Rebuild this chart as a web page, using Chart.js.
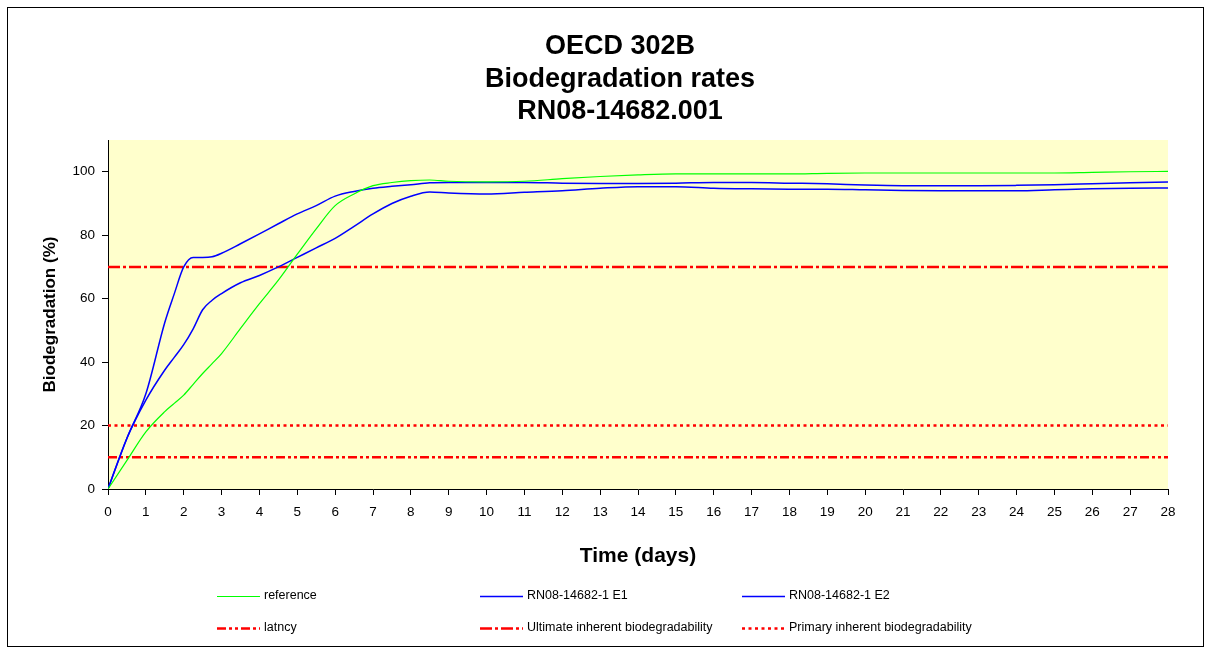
<!DOCTYPE html>
<html><head><meta charset="utf-8">
<script src="https://cdn.jsdelivr.net/npm/chart.js@4.4.1/dist/chart.umd.min.js"></script>
<style>html,body{margin:0;padding:0;background:#fff;}#wrap{width:1208px;height:652px;}</style>
</head><body><div id="wrap"><canvas id="c" width="1208" height="652"></canvas></div>
<script>
const days      = [0, 0.5, 1, 1.5, 1.75, 2, 2.25, 2.5, 2.75, 3, 3.5, 4, 4.5, 5, 5.5, 6, 6.5, 7, 7.5, 8, 8.5, 9, 10, 11, 12, 13, 14, 15, 16, 17, 18, 19, 20, 21, 22, 23, 24, 25, 26, 27, 28];
const reference = [0, 9, 18, 24.4, 27, 29.6, 33, 36.4, 39.5, 42.7, 50.6, 58.4, 65.8, 74, 82, 89.3, 93, 95.6, 96.6, 97.2, 97.4, 97, 96.8, 97, 97.8, 98.5, 99, 99.3, 99.3, 99.3, 99.3, 99.5, 99.6, 99.6, 99.6, 99.6, 99.6, 99.6, 99.8, 100, 100.1];
const e1        = [0, 16, 30, 52.5, 61.5, 70, 73, 73, 73.2, 74.3, 77.3, 80.4, 83.6, 86.7, 89.3, 92.3, 93.8, 94.8, 95.4, 95.9, 96.5, 96.6, 96.6, 96.6, 96.4, 96.3, 96.3, 96.4, 96.6, 96.6, 96.4, 96.2, 95.8, 95.6, 95.6, 95.6, 95.7, 95.9, 96.2, 96.5, 96.8];
const e2        = [0, 16, 28, 37.5, 41.5, 45.5, 50.5, 56.5, 59.5, 61.6, 65, 67.3, 70, 73, 76, 79, 82.8, 86.7, 90, 92.3, 93.6, 93.3, 93, 93.5, 94, 94.8, 95.3, 95.3, 94.8, 94.6, 94.5, 94.5, 94.3, 94.1, 94, 94, 94, 94.3, 94.6, 94.8, 94.9];
const latencyLevel  = 10;
const ultimateLevel = 70;
const primaryLevel  = 20;
const xRange = [0, 28];
const yRange = [0, 110];
const yStep = 20;
const titleLines = ['OECD 302B', 'Biodegradation rates', 'RN08-14682.001'];
const seriesNames = ['reference', 'RN08-14682-1 E1', 'RN08-14682-1 E2', 'latncy', 'Ultimate inherent biodegradability', 'Primary inherent biodegradability'];

const FONT = 'Liberation Sans, Arial, sans-serif';
const pts = arr => days.map((d, i) => ({x: d, y: arr[i]}));
const flat = v => [{x: xRange[0], y: v}, {x: xRange[1], y: v}];

const curve = {pointRadius: 0, fill: false, cubicInterpolationMode: 'monotone'};
const datasets = [
  Object.assign({label: seriesNames[0], data: pts(reference), borderColor: '#00FF00', borderWidth: 1.2}, curve),
  Object.assign({label: seriesNames[1], data: pts(e1), borderColor: '#0000FF', borderWidth: 1.5}, curve),
  Object.assign({label: seriesNames[2], data: pts(e2), borderColor: '#0000FF', borderWidth: 1.5}, curve),
  {label: seriesNames[3], data: flat(latencyLevel), borderColor: '#FF0000', borderWidth: 2.5, borderDash: [9, 3, 3, 3, 3, 3], pointRadius: 0},
  {label: seriesNames[4], data: flat(ultimateLevel), borderColor: '#FF0000', borderWidth: 2.5, borderDash: [12, 3, 3, 3], pointRadius: 0},
  {label: seriesNames[5], data: flat(primaryLevel), borderColor: '#FF0000', borderWidth: 2.5, borderDash: [3, 3.5], pointRadius: 0}
];

const framePlugin = {
  id: 'frame',
  beforeDraw(chart) {
    const ctx = chart.ctx, a = chart.chartArea;
    ctx.save();
    ctx.fillStyle = '#fff';
    ctx.fillRect(0, 0, chart.width, chart.height);
    ctx.strokeStyle = '#000';
    ctx.lineWidth = 1;
    ctx.strokeRect(7.5, 7.5, 1196, 639);
    ctx.fillStyle = '#FFFFCC';
    ctx.fillRect(a.left, a.top, a.right - a.left, a.bottom - a.top);
    ctx.restore();
  }
};

const legendPlugin = {
  id: 'gridLegend',
  afterDraw(chart) {
    const ctx = chart.ctx;
    const cols = [217, 480, 742];
    const rows = [596, 628];
    ctx.save();
    chart.data.datasets.forEach((ds, i) => {
      const x = cols[i % 3], y = rows[Math.floor(i / 3)];
      ctx.beginPath();
      ctx.strokeStyle = ds.borderColor;
      ctx.lineWidth = ds.borderWidth;
      ctx.setLineDash(ds.borderDash || []);
      ctx.moveTo(x, y + 0.5);
      ctx.lineTo(x + 43, y + 0.5);
      ctx.stroke();
      ctx.setLineDash([]);
      ctx.fillStyle = '#000';
      ctx.font = '12.5px ' + FONT;
      ctx.textBaseline = 'middle';
      ctx.textAlign = 'left';
      ctx.fillText(ds.label, x + 47, y);
    });
    ctx.restore();
  }
};

new Chart(document.getElementById('c'), {
  type: 'line',
  data: {datasets},
  plugins: [framePlugin, legendPlugin],
  options: {
    responsive: false,
    animation: false,
    devicePixelRatio: 1,
    layout: {padding: {left: 40, right: 8, top: 8, bottom: 83}},
    plugins: {
      legend: {display: false},
      tooltip: {enabled: false},
      title: {
        display: true,
        text: titleLines,
        color: '#000',
        font: {family: FONT, size: 27, weight: 'bold', lineHeight: 1.2},
        padding: {top: 22.5, bottom: 12.3}
      }
    },
    scales: {
      x: {
        type: 'linear', min: xRange[0], max: xRange[1],
        ticks: {stepSize: 1, autoSkip: false, maxRotation: 0, color: '#000', padding: 9, font: {family: FONT, size: 13.5}},
        grid: {drawOnChartArea: false, drawTicks: true, tickLength: 6, color: '#000'},
        border: {display: true, color: '#000', width: 1},
        title: {display: true, text: 'Time (days)', color: '#000', font: {family: FONT, size: 21, weight: 'bold'}, padding: 0},
        afterFit(s) { s.height = 80; }
      },
      y: {
        min: yRange[0], max: yRange[1],
        ticks: {stepSize: yStep, includeBounds: false, color: '#000', padding: 7, font: {family: FONT, size: 13.5}},
        grid: {drawOnChartArea: false, drawTicks: true, tickLength: 6, color: '#000'},
        border: {display: true, color: '#000', width: 1},
        title: {display: true, text: 'Biodegradation (%)', color: '#000', font: {family: FONT, size: 17, weight: 'bold'}, padding: 0},
        afterFit(s) { s.width = 68; }
      },
      y2: {
        position: 'right', display: true,
        grid: {display: false}, ticks: {display: false}, border: {display: false},
        afterFit(s) { s.width = 32; }
      }
    }
  }
});
</script></body></html>
